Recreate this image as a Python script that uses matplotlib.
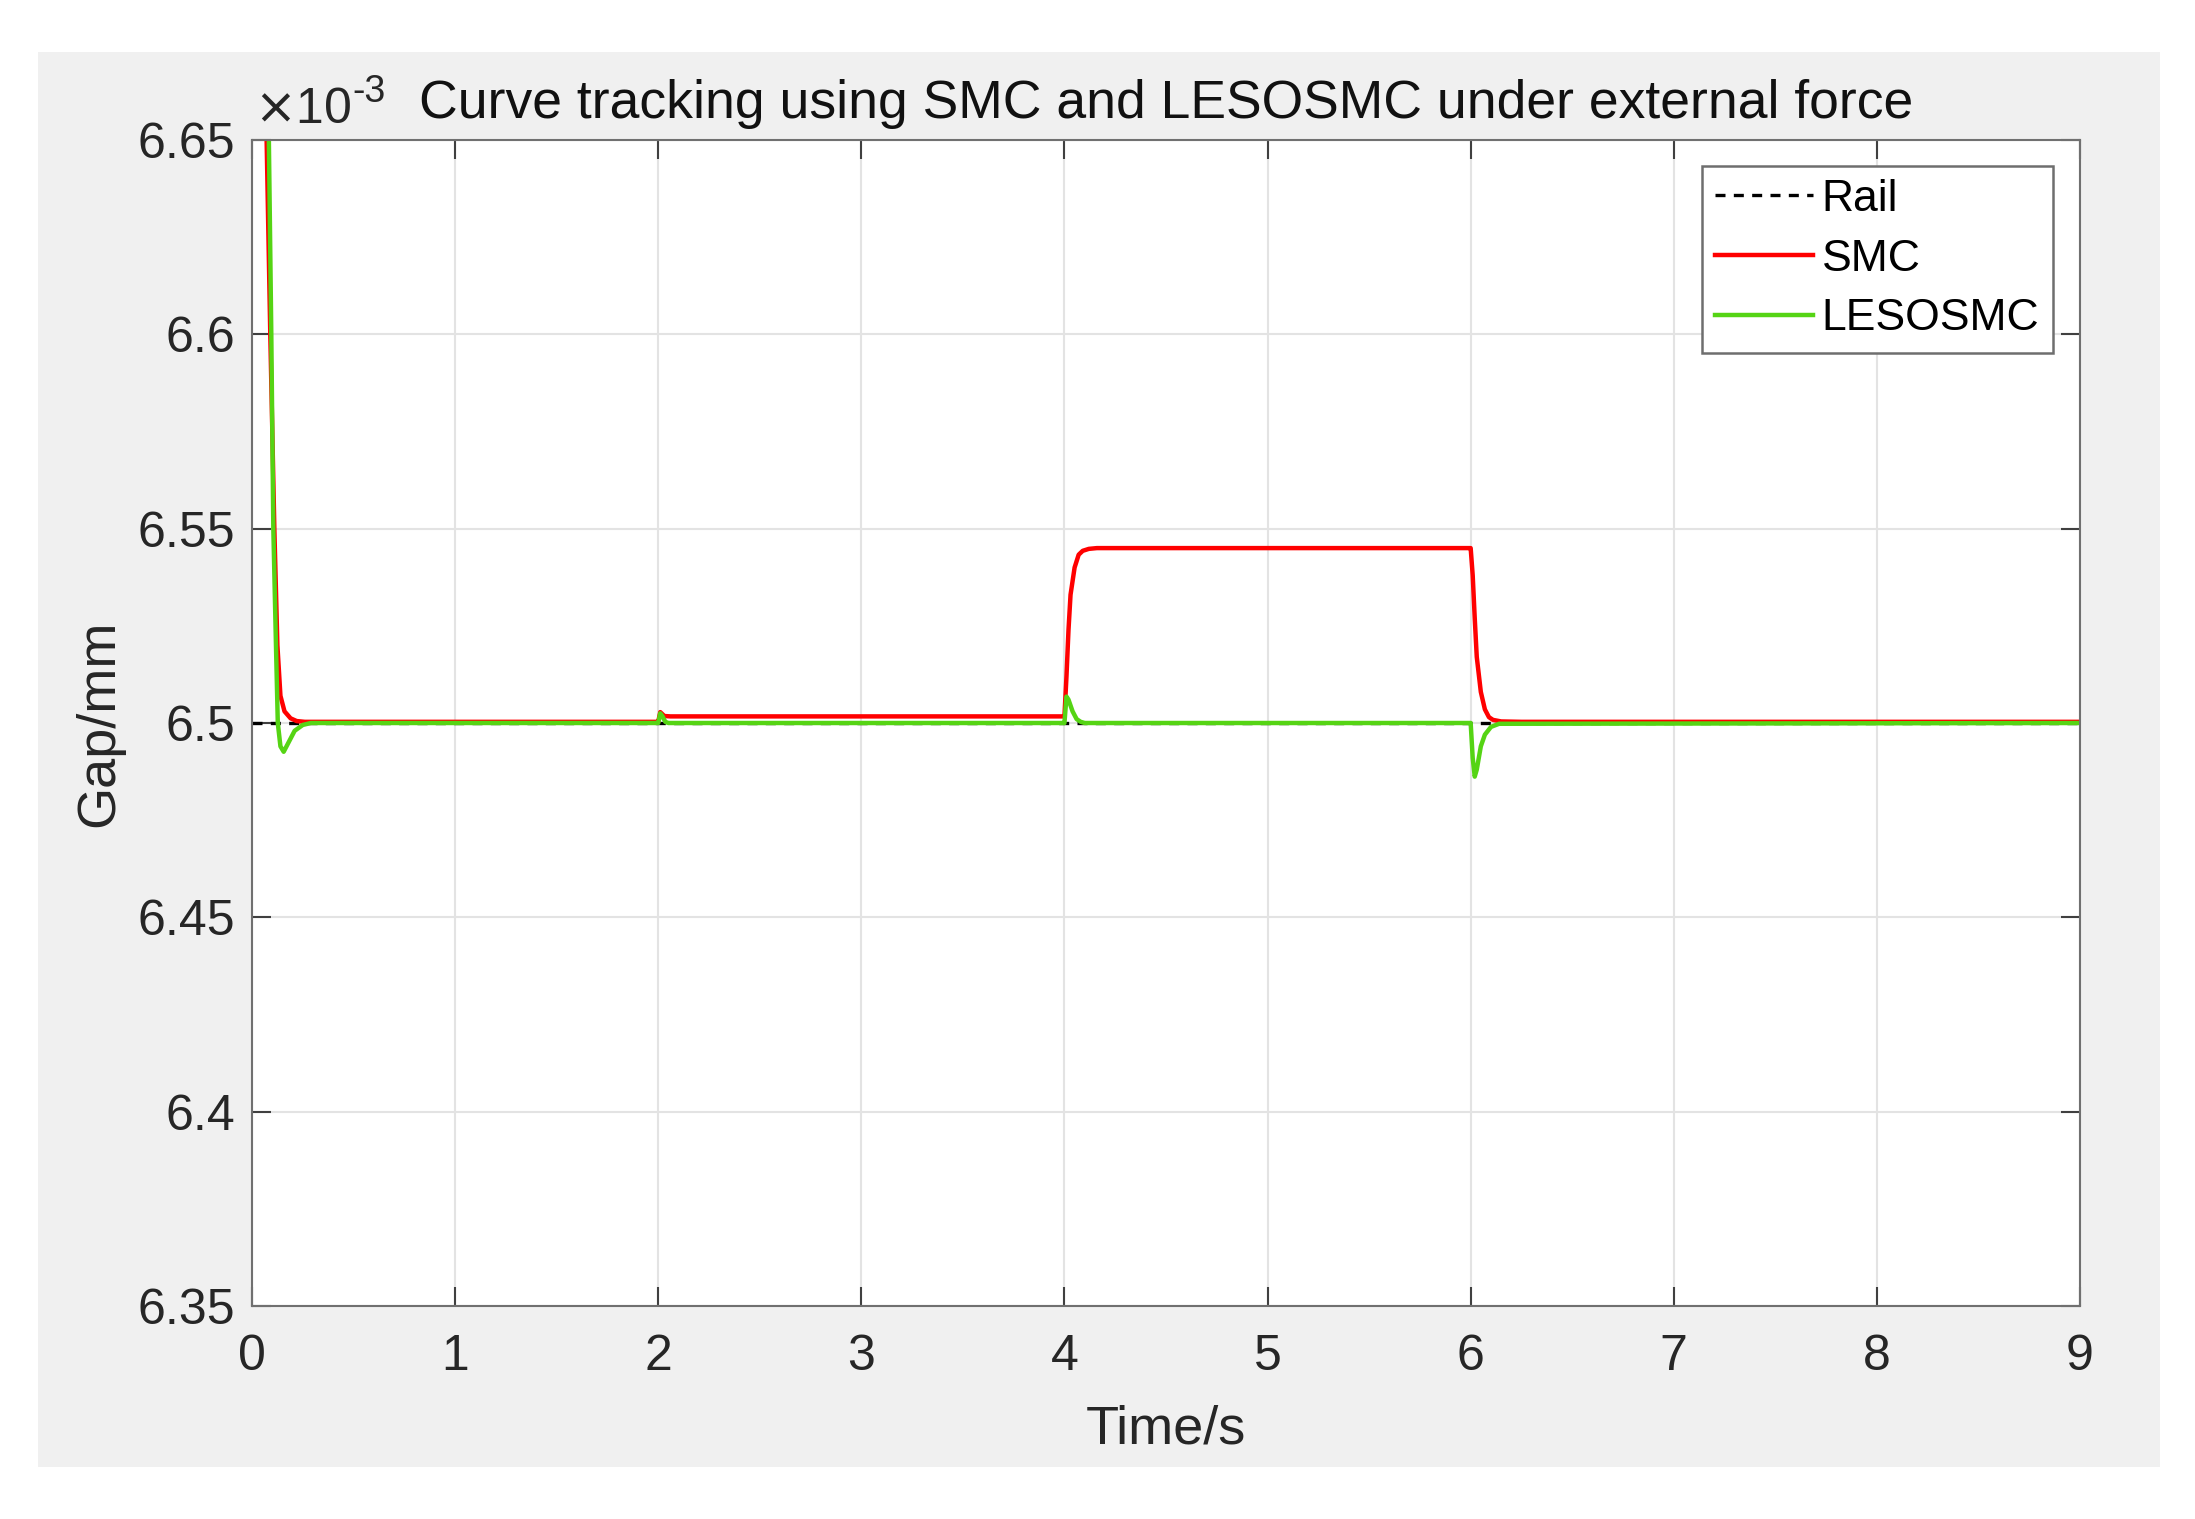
import matplotlib.pyplot as plt
from matplotlib.patches import Rectangle

# Time / gap data (gap in units of 1e-3 m)
railT = [0, 9]
railV = [6.5, 6.5]

smcT = [0, 0.06, 0.072, 0.09, 0.11, 0.125, 0.14, 0.16, 0.19, 0.22, 0.26,
        1.99, 2.0, 2.01, 2.03, 2.06,
        3.99, 4.0, 4.01, 4.02, 4.03, 4.05, 4.07, 4.09, 4.12, 4.16, 4.25,
        5.99, 6.0, 6.01, 6.02, 6.03, 6.05, 6.07, 6.09, 6.11, 6.15, 6.25, 9.0]
smcV = [7.2, 6.75, 6.65, 6.60, 6.55, 6.52, 6.507, 6.503, 6.5012, 6.5005, 6.5003,
        6.5003, 6.5003, 6.5028, 6.5018, 6.5017,
        6.5017, 6.5017, 6.512, 6.524, 6.533, 6.540, 6.5433, 6.5443, 6.5448, 6.545, 6.545,
        6.545, 6.545, 6.538, 6.527, 6.517, 6.508, 6.5035, 6.5015, 6.5008, 6.5004, 6.5003, 6.5003]

lesoT = [0, 0.07, 0.083, 0.095, 0.105, 0.118, 0.127, 0.14, 0.156, 0.18, 0.21, 0.25, 0.29,
         1.99, 2.0, 2.01, 2.02, 2.035, 2.05,
         3.99, 4.0, 4.01, 4.02, 4.04, 4.06, 4.08, 4.10,
         5.99, 6.0, 6.01, 6.02, 6.03, 6.05, 6.07, 6.10, 6.14, 9.0]
lesoV = [7.2, 6.75, 6.65, 6.60, 6.55, 6.52, 6.50, 6.494, 6.4926, 6.495, 6.498, 6.4995, 6.5,
         6.5, 6.5, 6.5025, 6.5018, 6.5003, 6.5,
         6.5, 6.5, 6.5068, 6.506, 6.503, 6.501, 6.5003, 6.5,
         6.5, 6.5, 6.491, 6.4862, 6.488, 6.494, 6.497, 6.499, 6.4998, 6.5]

xTicks = [0, 1, 2, 3, 4, 5, 6, 7, 8, 9]
yTicks = [6.35, 6.4, 6.45, 6.5, 6.55, 6.6, 6.65]
yLabels = ['6.35', '6.4', '6.45', '6.5', '6.55', '6.6', '6.65']

plt.rcParams['font.family'] = ['Liberation Sans', 'DejaVu Sans']

W, H = 2195, 1519
fig = plt.figure(figsize=(W/100, H/100), dpi=100, facecolor='white')

# grey MATLAB panel
fig.patches.append(Rectangle((38/W, 1-1467/H), (2160-38)/W, (1467-52)/H,
                             transform=fig.transFigure, facecolor='#f0f0f0',
                             edgecolor='none', zorder=-10))

ax = fig.add_axes([252/W, 1-1306/H, (2080-252)/W, (1306-140)/H])
ax.set_facecolor('white')

ax.plot(railT, railV, color='black', ls=(0, (3, 2.5)), lw=2.4, label='Rail')
ax.plot(smcT, smcV, color='#ff0000', lw=3.2, label='SMC')
ax.plot(lesoT, lesoV, color='#55d414', lw=3.2, label='LESOSMC')

ax.set_xlim(0, 9)
ax.set_ylim(6.35, 6.65)
ax.set_xticks(xTicks)
ax.set_yticks(yTicks)
ax.set_yticklabels(yLabels)
ax.grid(True, color='#e3e3e3', lw=1.5)
ax.set_axisbelow(True)
ax.tick_params(direction='in', top=True, right=True, length=14, width=1.5,
               colors='#404040', labelcolor='#262626', labelsize=36)
ax.tick_params(axis='x', pad=20)
ax.tick_params(axis='y', pad=12)
for s in ax.spines.values():
    s.set_color('#707070')
    s.set_linewidth(1.5)

ax.set_xlabel('Time/s', fontsize=39, color='#262626', labelpad=18)
ax.set_ylabel('Gap/mm', fontsize=39, color='#262626', labelpad=10)
ax.set_title('Curve tracking using SMC and LESOSMC under external force',
             fontsize=38.5, color='#111111', pad=16, x=0.5)

# MATLAB style exponent label
expTxt = ax.text(0.001, 1.006, r'$\times$10', transform=ax.transAxes,
                 fontsize=36, color='#262626', ha='left', va='bottom')
ax.annotate('-3', xy=(1.0, 0.5), xycoords=expTxt, xytext=(1, 0),
            textcoords='offset points', fontsize=27, color='#262626',
            ha='left', va='bottom')

leg = ax.legend(loc='upper right', bbox_to_anchor=(0.985, 0.978), fontsize=32,
                handlelength=2.2, handletextpad=0.2, borderpad=0.3,
                labelspacing=0.42, borderaxespad=0, fancybox=False,
                framealpha=1, edgecolor='#6e6e6e')
leg.get_frame().set_linewidth(1.8)

fig.savefig('out.png', dpi=100, facecolor='white')
